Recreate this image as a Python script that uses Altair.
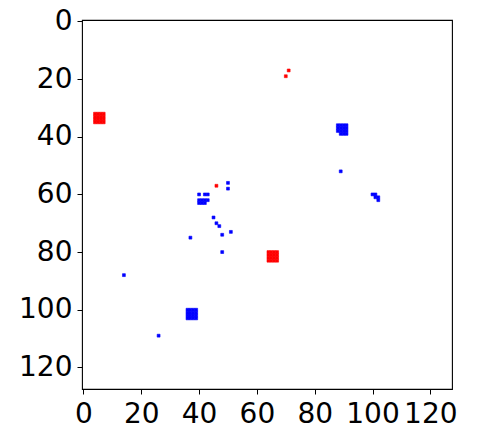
import altair as alt
import pandas as pd

# Pixel positions (column, row)
RED_PIXELS = [
    # 4x4 block near (5, 33)
    (4, 32), (5, 32), (6, 32), (7, 32),
    (4, 33), (5, 33), (6, 33), (7, 33),
    (4, 34), (5, 34), (6, 34), (7, 34),
    (4, 35), (5, 35), (6, 35), (7, 35),
    # 4x4 block near (65, 81)
    (64, 80), (65, 80), (66, 80), (67, 80),
    (64, 81), (65, 81), (66, 81), (67, 81),
    (64, 82), (65, 82), (66, 82), (67, 82),
    (64, 83), (65, 83), (66, 83), (67, 83),
    # single pixels
    (71, 17), (70, 19), (46, 57),
]

BLUE_PIXELS = [
    # block near (89, 37), bottom-left pixel missing
    (88, 36), (89, 36), (90, 36), (91, 36),
    (88, 37), (89, 37), (90, 37), (91, 37),
    (88, 38), (89, 38), (90, 38), (91, 38),
    (89, 39), (90, 39), (91, 39),
    # 4x4 block near (37, 101)
    (36, 100), (37, 100), (38, 100), (39, 100),
    (36, 101), (37, 101), (38, 101), (39, 101),
    (36, 102), (37, 102), (38, 102), (39, 102),
    (36, 103), (37, 103), (38, 103), (39, 103),
    # cluster near (41, 61)
    (40, 60), (42, 60), (43, 60),
    (40, 62), (41, 62), (42, 62), (43, 62),
    (40, 63), (41, 63), (42, 63),
    # cluster near (101, 61)
    (100, 60), (101, 60), (101, 61), (102, 61), (102, 62),
    # single pixels
    (89, 52), (50, 56), (50, 58),
    (45, 68), (46, 70), (47, 71), (48, 74), (51, 73),
    (37, 75), (48, 80), (14, 88), (26, 109),
]

TICKS = [0, 20, 40, 60, 80, 100, 120]
EXTENT = [-0.5, 127.5]

rows = []
for c, r in RED_PIXELS:
    rows.append({"col": c, "row": r, "color": "#ff0000"})
for c, r in BLUE_PIXELS:
    rows.append({"col": c, "row": r, "color": "#0000ff"})
df = pd.DataFrame(rows)

axis_common = dict(
    values=TICKS,
    title=None,
    grid=False,
    domain=False,
    labelFont="DejaVu Sans",
    labelFontSize=28,
    labelColor="black",
    tickColor="black",
    tickSize=5,
    tickWidth=1,
    labelFlush=False,
    labelOverlap=False,
)

chart = (
    alt.Chart(df)
    .transform_calculate(
        x0="datum.col - 0.5",
        x1="datum.col + 0.5",
        y0="datum.row - 0.5",
        y1="datum.row + 0.5",
    )
    .mark_rect(strokeWidth=0.6, opacity=1)
    .encode(
        x=alt.X("x0:Q", scale=alt.Scale(domain=EXTENT, nice=False, zero=False),
                axis=alt.Axis(labelPadding=6, **axis_common)),
        x2="x1:Q",
        y=alt.Y("y0:Q", scale=alt.Scale(domain=EXTENT, nice=False, zero=False, reverse=True),
                axis=alt.Axis(labelPadding=5, **axis_common)),
        y2="y1:Q",
        fill=alt.Fill("color:N", scale=None),
        stroke=alt.Stroke("color:N", scale=None),
    )
    .properties(
        width=370,
        height=369,
        autosize=alt.AutoSizeParams(type="none"),
        padding={"left": 74, "top": 12, "right": 24, "bottom": 44},
        background="white",
    )
    .configure_view(stroke="black", strokeWidth=1.1, strokeOpacity=1)
)

chart.save("out.html", embed_options={"renderer": "svg", "actions": False})
